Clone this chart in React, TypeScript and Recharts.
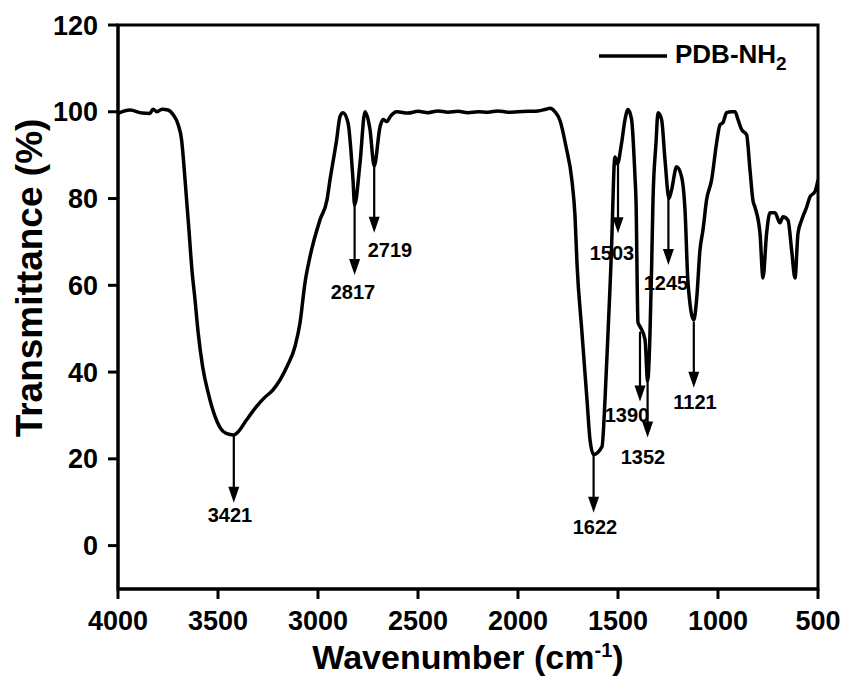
import React from 'react';
import {
  LineChart,
  Line,
  XAxis,
  YAxis,
  ReferenceArea,
  ReferenceLine,
  ReferenceDot,
} from 'recharts';

const FONT = '"Liberation Sans", Arial, sans-serif';

// FTIR spectrum (wavenumber in cm-1, descending)
const wavenumbers = [
  4000, 3940, 3880, 3840, 3825, 3805, 3780, 3750, 3724, 3699, 3682, 3670, 3657, 3644, 3632,
  3615, 3599, 3577, 3549, 3515, 3474, 3440, 3421, 3400, 3357, 3307, 3270, 3225, 3155, 3115,
  3090, 3065, 3040, 2990, 2955, 2940, 2907, 2890, 2875, 2850, 2825, 2817, 2790, 2765, 2740,
  2719, 2690, 2675, 2655, 2640, 2605, 2550, 2500, 2450, 2400, 2350, 2300, 2250, 2200, 2150,
  2100, 2050, 2000, 1950, 1900, 1860, 1840, 1815, 1790, 1760, 1730, 1715, 1705, 1680, 1655,
  1640, 1622, 1580, 1565, 1550, 1530, 1525, 1520, 1515, 1503, 1482, 1465, 1450, 1432, 1415,
  1410, 1400, 1390, 1365, 1352, 1340, 1332, 1325, 1310, 1300, 1282, 1265, 1245, 1232, 1207,
  1182, 1165, 1150, 1121, 1107, 1090, 1075, 1057, 1032, 1007, 990, 975, 957, 932, 915,
  900, 882, 857, 840, 825, 815, 790, 775, 757, 740, 715, 690, 675, 650, 632,
  615, 600, 582, 557, 540, 515, 500,
];

const transmittance = [
  99.6, 100.4, 99.7, 99.6, 100.6, 100.0, 100.6, 100.4, 99.3, 97, 93.5, 87.4, 79.7, 72, 64.4,
  56.7, 49, 41.3, 35.2, 29.8, 26.3, 25.6, 25.5, 26.2, 29, 32.1, 34, 35.9, 41.3, 45.9,
  51.3, 60.6, 66.6, 75.1, 79.7, 84.3, 93.5, 98.9, 99.8, 97.5, 84.3, 78.5, 88.2, 100, 95.9,
  87.5, 96.5, 98.2, 97.7, 98.8, 100, 99.7, 100.1, 99.8, 100.2, 99.9, 100.1, 99.8, 100, 99.9,
  100.2, 99.9, 100, 100.1, 100.2, 100.6, 100.8, 100, 98, 92, 84, 76, 65, 49, 33.6,
  24.4, 21, 22.8, 33.6, 49, 72, 80, 87, 89.6, 88, 92.8, 98.2, 100.5, 98.2, 85,
  79.7, 51.4, 50.5, 47.5, 38, 49, 64, 79.7, 92.8, 99.8, 98.2, 88.9, 80, 82, 87.3,
  85, 77.4, 60.6, 52, 56.7, 68.2, 72.8, 79.7, 84.3, 92.8, 97, 97.5, 99.8, 100, 100,
  98.2, 95.9, 94.7, 86.6, 79.5, 78, 72, 61.7, 72, 76.7, 76.7, 74.4, 75.8, 75, 68.2,
  61.7, 72, 75, 78, 80.4, 81.6, 84.3,
];

const xTicks = [4000, 3500, 3000, 2500, 2000, 1500, 1000, 500];
const yTicks = [0, 20, 40, 60, 80, 100, 120];

// peak annotations: arrow from/to in % transmittance, label anchor in data units
const peakNames = ['3421', '2817', '2719', '1622', '1503', '1390', '1352', '1245', '1121'];
const peakWave = [3421, 2817, 2719, 1622, 1500, 1390, 1352, 1248, 1121];
const arrowFrom = [25.6, 78.5, 87.5, 21.4, 88, 49.3, 38.2, 80.4, 51.6];
const arrowTo = [9.9, 62.4, 72.1, 7.6, 72, 33.2, 24.9, 64.7, 36.4];
const labelWave = [3440, 2825, 2640, 1615, 1530, 1455, 1375, 1260, 1115];
const labelT = [7.1, 58.5, 68.2, 4.4, 67.5, 30.2, 20.5, 60.6, 33.2];

const data = wavenumbers.map((w, i) => ({ w, t: transmittance[i] }));

function Arrow(props: any) {
  const { x1, y1, x2, y2 } = props;
  const head = 16;
  const half = 5.5;
  return (
    <g>
      <line x1={x1} y1={y1} x2={x2} y2={y2 - head + 2} stroke="#000" strokeWidth={2.2} />
      <polygon points={`${x2 - half},${y2 - head} ${x2 + half},${y2 - head} ${x2},${y2}`} fill="#000" />
    </g>
  );
}

function PeakText({ cx, cy, text }: any) {
  return (
    <text x={cx} y={cy} dy="0.36em" textAnchor="middle" fontFamily={FONT} fontWeight={700} fontSize={20} fill="#000">
      {text}
    </text>
  );
}

function XTitle({ viewBox }: any) {
  const cx = viewBox.x + viewBox.width / 2;
  return (
    <text x={cx} y={669} textAnchor="middle" fontFamily={FONT} fontWeight={700} fontSize={34} fill="#000">
      Wavenumber (cm
      <tspan fontSize={20} dy={-12}>-1</tspan>
      <tspan dy={12}>)</tspan>
    </text>
  );
}

function YTitle() {
  return (
    <text
      x={0}
      y={0}
      transform="translate(42, 278) rotate(-90)"
      textAnchor="middle"
      fontFamily={FONT}
      fontWeight={700}
      fontSize={37}
      fill="#000"
    >
      Transmittance (%)
    </text>
  );
}

function LegendBox() {
  return (
    <svg width={230} height={60} style={{ position: 'absolute', left: 595, top: 30 }}>
      <line x1={4} y1={26} x2={72} y2={26} stroke="#000" strokeWidth={3.5} />
      <text x={80} y={33} fontFamily={FONT} fontWeight={700} fontSize={26} fill="#000">
        PDB-NH
        <tspan fontSize={19} dy={7}>2</tspan>
      </text>
    </svg>
  );
}

export default function App() {
  const tickStyle = { fontSize: 27, fontWeight: 700, fill: '#000', fontFamily: FONT };
  return (
    <div style={{ position: 'absolute', left: 0, top: 0, width: 846, height: 682, background: '#fff' }}>
      <LineChart width={846} height={682} data={data} margin={{ top: 25, right: 28, bottom: 0, left: 0 }}>
        <XAxis
          dataKey="w"
          type="number"
          domain={[500, 4000]}
          reversed
          ticks={xTicks}
          allowDataOverflow
          height={93}
          tick={tickStyle}
          tickSize={10}
          tickMargin={12}
          tickLine={{ stroke: '#000', strokeWidth: 3 }}
          axisLine={{ stroke: '#000', strokeWidth: 3 }}
          label={<XTitle />}
        />
        <YAxis
          type="number"
          domain={[-10, 120]}
          ticks={yTicks}
          allowDataOverflow
          width={118}
          tick={tickStyle}
          tickSize={10}
          tickMargin={10}
          tickLine={{ stroke: '#000', strokeWidth: 3 }}
          axisLine={{ stroke: '#000', strokeWidth: 3 }}
          label={<YTitle />}
        />
        <ReferenceArea x1={4000} x2={500} y1={-10} y2={120} fill="none" stroke="#000" strokeWidth={3} />
        <Line
          type="monotone"
          dataKey="t"
          stroke="#000"
          strokeWidth={3.5}
          dot={false}
          activeDot={false}
          isAnimationActive={false}
        />
        {peakNames.map((name, i) => (
          <ReferenceLine
            key={'a' + name}
            segment={[
              { x: peakWave[i], y: arrowFrom[i] },
              { x: peakWave[i], y: arrowTo[i] },
            ]}
            shape={<Arrow />}
          />
        ))}
        {peakNames.map((name, i) => (
          <ReferenceDot
            key={'l' + name}
            x={labelWave[i]}
            y={labelT[i]}
            r={0}
            shape={<PeakText text={name} />}
          />
        ))}
      </LineChart>
      <LegendBox />
    </div>
  );
}
